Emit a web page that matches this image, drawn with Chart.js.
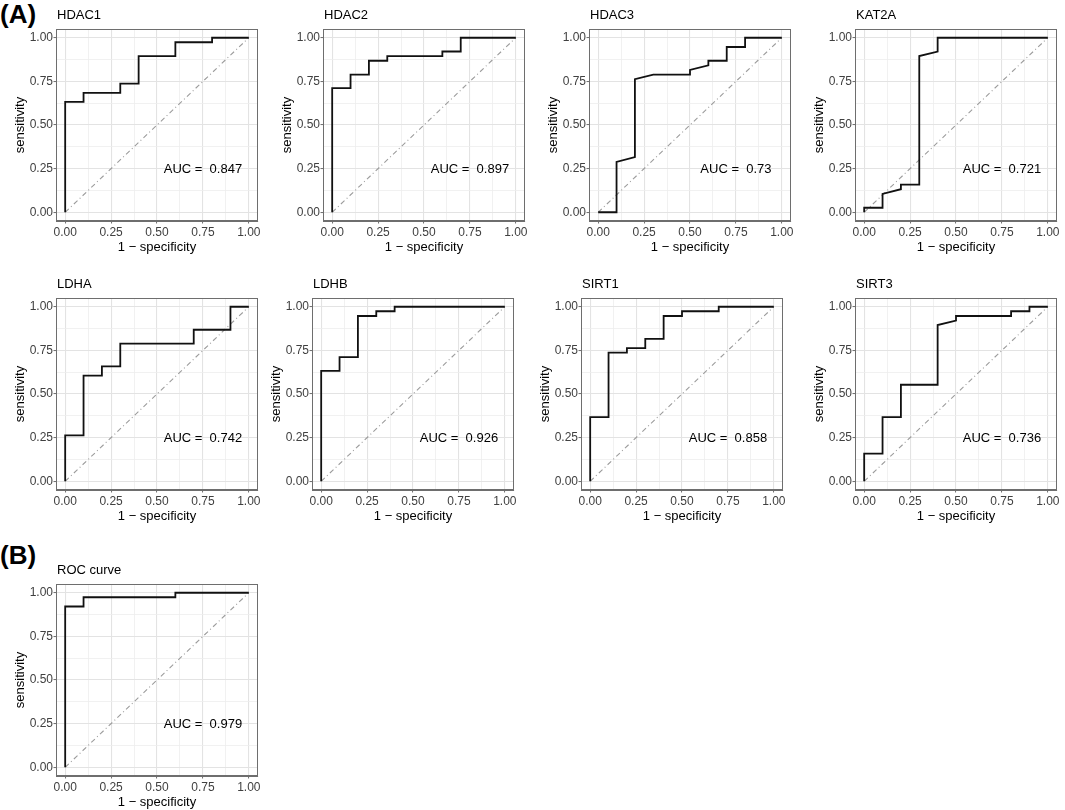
<!DOCTYPE html>
<html>
<head>
<meta charset="utf-8">
<script src="https://cdn.jsdelivr.net/npm/chart.js@4.4.1/dist/chart.umd.min.js"></script>
<style>
  html, body { margin: 0; padding: 0; background: #fff; overflow: hidden; }
  body { width: 1065px; height: 810px; position: relative; font-family: "Liberation Sans", Arial, sans-serif; }
  canvas { position: absolute; }
  .tag { position: absolute; font-weight: bold; font-size: 26px; line-height: 1; color: #000; }
</style>
</head>
<body>
<div class="tag" style="left:0px;top:1px">(A)</div>
<div class="tag" style="left:0px;top:542px">(B)</div>
<div id="wrap"></div>
<script>
// ROC curves: x = 1 - specificity, y = sensitivity
const hdac1X = [0, 0, 0.1, 0.1, 0.3, 0.3, 0.4, 0.4, 0.6, 0.6, 0.8, 0.8, 1];
const hdac1Y = [0, 0.632, 0.632, 0.684, 0.684, 0.737, 0.737, 0.895, 0.895, 0.974, 0.974, 1, 1];
const hdac2X = [0, 0, 0.1, 0.1, 0.2, 0.2, 0.3, 0.3, 0.6, 0.6, 0.7, 0.7, 1];
const hdac2Y = [0, 0.711, 0.711, 0.789, 0.789, 0.868, 0.868, 0.895, 0.895, 0.921, 0.921, 1, 1];
const hdac3X = [0, 0.1, 0.1, 0.2, 0.2, 0.3, 0.5, 0.5, 0.6, 0.6, 0.7, 0.7, 0.8, 0.8, 1];
const hdac3Y = [0, 0, 0.289, 0.316, 0.763, 0.789, 0.789, 0.816, 0.842, 0.868, 0.868, 0.947, 0.947, 1, 1];
const kat2aX = [0, 0, 0.1, 0.1, 0.2, 0.2, 0.3, 0.3, 0.4, 0.4, 1];
const kat2aY = [0, 0.026, 0.026, 0.105, 0.132, 0.158, 0.158, 0.895, 0.921, 1, 1];
const ldhaX = [0, 0, 0.1, 0.1, 0.2, 0.2, 0.3, 0.3, 0.7, 0.7, 0.9, 0.9, 1];
const ldhaY = [0, 0.263, 0.263, 0.605, 0.605, 0.658, 0.658, 0.789, 0.789, 0.868, 0.868, 1, 1];
const ldhbX = [0, 0, 0.1, 0.1, 0.2, 0.2, 0.3, 0.3, 0.4, 0.4, 1];
const ldhbY = [0, 0.632, 0.632, 0.711, 0.711, 0.947, 0.947, 0.974, 0.974, 1, 1];
const sirt1X = [0, 0, 0.1, 0.1, 0.2, 0.2, 0.3, 0.3, 0.4, 0.4, 0.5, 0.5, 0.7, 0.7, 1];
const sirt1Y = [0, 0.368, 0.368, 0.737, 0.737, 0.763, 0.763, 0.816, 0.816, 0.947, 0.947, 0.974, 0.974, 1, 1];
const sirt3X = [0, 0, 0.1, 0.1, 0.2, 0.2, 0.4, 0.4, 0.5, 0.5, 0.8, 0.8, 0.9, 0.9, 1];
const sirt3Y = [0, 0.158, 0.158, 0.368, 0.368, 0.553, 0.553, 0.895, 0.921, 0.947, 0.947, 0.974, 0.974, 1, 1];
const rocX = [0, 0, 0.1, 0.1, 0.6, 0.6, 1];
const rocY = [0, 0.921, 0.921, 0.974, 0.974, 1, 1];

const diagX = [0, 1];
const diagY = [0, 1];

const panelTitles = ['HDAC1', 'HDAC2', 'HDAC3', 'KAT2A', 'LDHA', 'LDHB', 'SIRT1', 'SIRT3', 'ROC curve'];
const aucLabels = ['0.847', '0.897', '0.73', '0.721', '0.742', '0.926', '0.858', '0.736', '0.979'];
const curvesX = [hdac1X, hdac2X, hdac3X, kat2aX, ldhaX, ldhbX, sirt1X, sirt3X, rocX];
const curvesY = [hdac1Y, hdac2Y, hdac3Y, kat2aY, ldhaY, ldhbY, sirt1Y, sirt3Y, rocY];

const majorTicks = [0, 0.25, 0.5, 0.75, 1];
const minorTicks = [0.125, 0.375, 0.625, 0.875];

// plot-panel top-left corners on the page
const panelLeft = [56, 323, 589, 855, 56, 312, 581, 855, 56];
const panelTop = [29, 29, 29, 29, 298, 298, 298, 298, 584];

const FONT = '"Liberation Sans", Arial, sans-serif';
const AXIS_W = 50, PAD_TOP = 26, PAD_RIGHT = 12, AXIS_H = 38;
const PLOT_W = 202, PLOT_H = 192;

const isMajor = v => majorTicks.some(m => Math.abs(m - v) < 1e-9);

const panelDecor = {
    id: 'panelDecor',
    afterDraw(chart, args, opts) {
        const { ctx, chartArea: a, scales } = chart;
        ctx.save();
        // panel border
        ctx.strokeStyle = '#6e6e6e';
        ctx.lineWidth = 1;
        ctx.strokeRect(a.left + 0.5, a.top + 0.5, a.right - a.left - 1, a.bottom - a.top - 1);
        // panel title
        ctx.fillStyle = '#000';
        ctx.font = '13px ' + FONT;
        ctx.textAlign = 'left';
        ctx.textBaseline = 'alphabetic';
        ctx.fillText(opts.title, a.left + 1, a.top - 10);
        // AUC annotation
        ctx.textAlign = 'center';
        ctx.textBaseline = 'middle';
        ctx.fillText('AUC =  ' + opts.auc, scales.x.getPixelForValue(0.75), scales.y.getPixelForValue(0.245));
        ctx.restore();
    }
};

function axisConfig(isX) {
    return {
        type: 'linear',
        min: -0.05,
        max: 1.05,
        afterBuildTicks: scale => {
            scale.ticks = majorTicks.concat(minorTicks).sort((a, b) => a - b).map(v => ({ value: v }));
        },
        afterFit: scale => {
            if (isX) scale.height = AXIS_H; else scale.width = AXIS_W;
        },
        ticks: {
            autoSkip: false,
            maxRotation: 0,
            padding: isX ? 1.5 : 0.5,
            color: '#404040',
            font: { family: FONT, size: 12 },
            callback: v => isMajor(v) ? v.toFixed(2) : ''
        },
        grid: {
            drawTicks: true,
            tickLength: 2.5,
            tickWidth: 1,
            color: c => isMajor(c.tick.value) ? '#e3e3e3' : '#eeeeee',
            lineWidth: c => isMajor(c.tick.value) ? 1.1 : 0.8,
            tickColor: c => isMajor(c.tick.value) ? '#6e6e6e' : 'rgba(0,0,0,0)'
        },
        border: { display: true, color: '#6e6e6e', width: 1 },
        title: {
            display: true,
            text: isX ? '1 \u2212 specificity' : 'sensitivity',
            color: '#000',
            font: { family: FONT, size: 13 },
            padding: isX ? { top: 0, bottom: 4 } : { top: 7, bottom: 0 }
        }
    };
}

const wrap = document.getElementById('wrap');
panelTitles.forEach((title, i) => {
    const canvas = document.createElement('canvas');
    const w = AXIS_W + PLOT_W + PAD_RIGHT;
    const h = PAD_TOP + PLOT_H + AXIS_H;
    canvas.width = w;
    canvas.height = h;
    canvas.style.width = w + 'px';
    canvas.style.height = h + 'px';
    canvas.style.left = (panelLeft[i] - AXIS_W) + 'px';
    canvas.style.top = (panelTop[i] - PAD_TOP) + 'px';
    wrap.appendChild(canvas);

    const curve = curvesX[i].map((x, k) => ({ x: x, y: curvesY[i][k] }));
    const diag = diagX.map((x, k) => ({ x: x, y: diagY[k] }));

    new Chart(canvas.getContext('2d'), {
        type: 'scatter',
        data: {
            datasets: [
                {
                    data: curve,
                    showLine: true,
                    borderColor: '#111',
                    borderWidth: 1.8,
                    pointRadius: 0,
                    tension: 0
                },
                {
                    data: diag,
                    showLine: true,
                    borderColor: '#9c9c9c',
                    borderWidth: 1.1,
                    borderDash: [5, 3, 1, 3],
                    pointRadius: 0
                }
            ]
        },
        options: {
            responsive: false,
            animation: false,
            devicePixelRatio: 1,
            layout: { padding: { top: PAD_TOP, right: PAD_RIGHT, left: 0, bottom: 0 } },
            plugins: {
                legend: { display: false },
                tooltip: { enabled: false },
                panelDecor: { title: title, auc: aucLabels[i] }
            },
            scales: {
                x: axisConfig(true),
                y: axisConfig(false)
            }
        },
        plugins: [panelDecor]
    });
});
</script>
</body>
</html>
